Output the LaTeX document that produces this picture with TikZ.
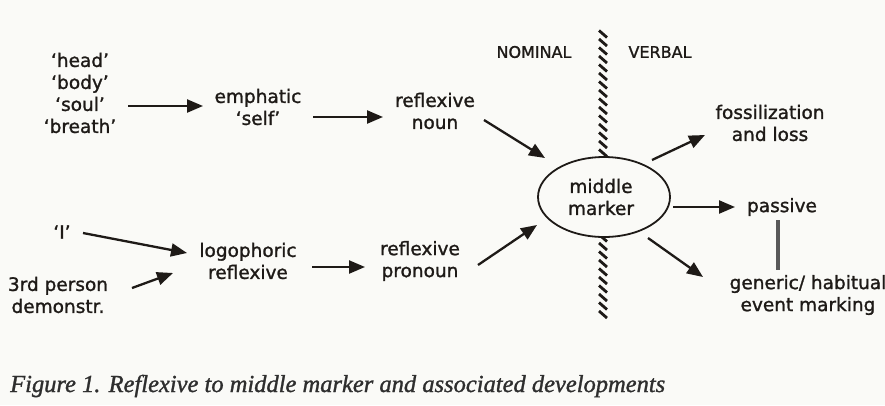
\documentclass[tikz,border=0pt]{standalone}
\usepackage{fontspec}
\setmainfont[FakeBold=1.3]{DejaVu Sans}
\newfontfamily\capfont[FakeBold=1.2]{Liberation Serif}
\usetikzlibrary{arrows.meta,shapes.geometric}
\definecolor{ink}{HTML}{1E1A17}
\definecolor{paper}{HTML}{FAFAF7}
\definecolor{capink}{HTML}{2E2E2E}
\tikzset{
  lbl/.style={text=ink, align=center, inner sep=0pt, font=\fontsize{18.5}{22}\selectfont},
  side/.style={text=ink, inner sep=0pt, font=\fontsize{16}{18}\selectfont},
  arr/.style={draw=ink, line width=2.3pt, -{Triangle[length=16pt,width=13pt]}},
  hatch/.style={draw=ink, line width=2.8pt},
  link/.style={draw=black!65, line width=3.8pt},
}
\begin{document}
\begin{tikzpicture}[x=1pt,y=-1pt]
\useasboundingbox[fill=paper] (0,0) rectangle (885,405);
% hatched boundary
\foreach \yy in {34,42.5,...,316} {
  \draw[hatch] (599,\yy-3.5) -- (607,\yy+3.5);
}
\node[lbl] (heads) at (80,93) {‘head’\\‘body’\\‘soul’\\‘breath’};
\node[lbl] (emph) at (258,107) {emphatic\\‘self’};
\node[lbl] (rnoun) at (435,111) {reflexive\\noun};
\node[side] (nominal) at (534,52) {NOMINAL};
\node[side] (verbal) at (660,52) {VERBAL};
\node[ellipse, draw=ink, line width=1.8pt, fill=paper, minimum width=132pt, minimum height=80pt, inner sep=0pt] (middle) at (604,197) {};
\node[lbl] (middletxt) at (601,197) {middle\\marker};
\node[lbl] (foss) at (770,123) {fossilization\\and loss};
\node[lbl] (passive) at (782,207) {passive};
\node[lbl] (generic) at (808,295) {generic/ habitual\\event marking};
\node[lbl] (I) at (62,232) {‘I’};
\node[lbl] (third) at (58,295) {3rd person\\demonstr.};
\node[lbl] (logo) at (248,261) {logophoric\\reflexive};
\node[lbl] (rpron) at (420,261) {reflexive\\pronoun};

\draw[arr] ([shift={(48,13)}]heads.center) -- ([shift={(-55,-1)}]emph.center);
\draw[arr] ([shift={(55,10)}]emph.center) -- ([shift={(-52,6)}]rnoun.center);
\draw[arr] ([shift={(49,9)}]rnoun.center) -- ([shift={(-59,-39)}]middle.center);
\draw[arr] ([shift={(21,1)}]I.center) -- ([shift={(-61,-8)}]logo.center);
\draw[arr] ([shift={(74,-7)}]third.center) -- ([shift={(-75,12)}]logo.center);
\draw[arr] ([shift={(64,6)}]logo.center) -- ([shift={(-55,6)}]rpron.center);
\draw[arr] ([shift={(58,4)}]rpron.center) -- ([shift={(-67,28)}]middle.center);
\draw[arr] ([shift={(48,-37)}]middle.center) -- ([shift={(-65,12)}]foss.center);
\draw[arr] ([shift={(69,10)}]middle.center) -- ([shift={(-47,0)}]passive.center);
\draw[arr] ([shift={(44,41)}]middle.center) -- ([shift={(-105,-18)}]generic.center);
\draw[link] ([shift={(-4,13)}]passive.center) -- ([shift={(-30,-25)}]generic.center);

\node[anchor=west, text=capink, inner sep=0pt, font=\capfont\itshape\fontsize{24.5}{26}\selectfont] (caption) at (10,386) {Figure 1. Reflexive to middle marker and associated developments};
\end{tikzpicture}
\end{document}
